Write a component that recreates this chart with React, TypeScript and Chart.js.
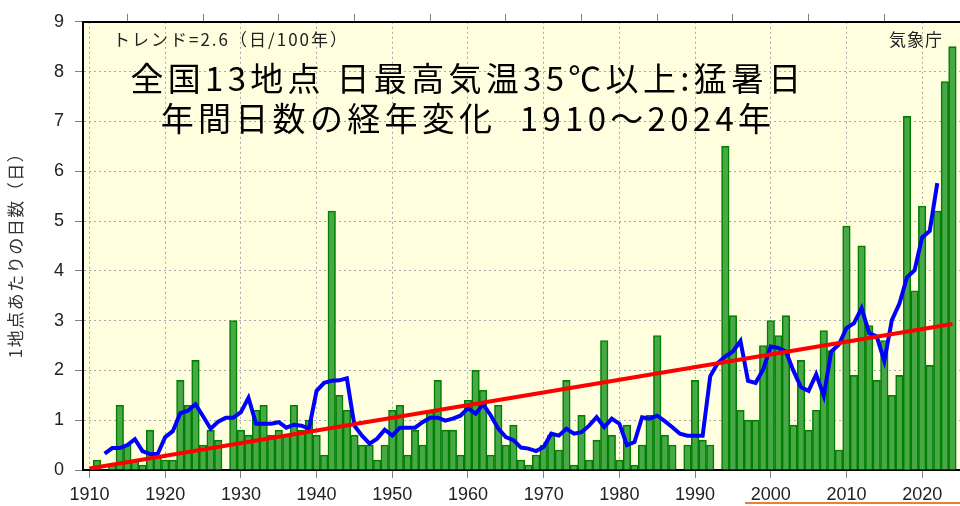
import React, { useEffect, useRef } from "react";
import { Chart, registerables } from "chart.js";

Chart.register(...registerables);

// ---------------- data ----------------
const YEARS = [
  1910, 1911, 1912, 1913, 1914, 1915, 1916, 1917, 1918, 1919,
  1920, 1921, 1922, 1923, 1924, 1925, 1926, 1927, 1928, 1929,
  1930, 1931, 1932, 1933, 1934, 1935, 1936, 1937, 1938, 1939,
  1940, 1941, 1942, 1943, 1944, 1945, 1946, 1947, 1948, 1949,
  1950, 1951, 1952, 1953, 1954, 1955, 1956, 1957, 1958, 1959,
  1960, 1961, 1962, 1963, 1964, 1965, 1966, 1967, 1968, 1969,
  1970, 1971, 1972, 1973, 1974, 1975, 1976, 1977, 1978, 1979,
  1980, 1981, 1982, 1983, 1984, 1985, 1986, 1987, 1988, 1989,
  1990, 1991, 1992, 1993, 1994, 1995, 1996, 1997, 1998, 1999,
  2000, 2001, 2002, 2003, 2004, 2005, 2006, 2007, 2008, 2009,
  2010, 2011, 2012, 2013, 2014, 2015, 2016, 2017, 2018, 2019,
  2020, 2021, 2022, 2023, 2024,
];

// annual number of days >= 35C per station
const HOT_DAYS = [
  0.0, 0.2, 0.0, 0.1, 1.3, 0.5, 0.2, 0.1, 0.8, 0.3,
  0.2, 0.2, 1.8, 1.3, 2.2, 0.5, 0.8, 0.6, 0.0, 3.0,
  0.8, 0.7, 1.2, 1.3, 0.7, 0.8, 0.7, 1.3, 0.8, 1.0,
  0.7, 0.3, 5.2, 1.5, 1.2, 0.7, 0.5, 0.5, 0.2, 0.5,
  1.2, 1.3, 0.3, 0.8, 0.5, 1.2, 1.8, 0.8, 0.8, 0.3,
  1.4, 2.0, 1.6, 0.3, 1.3, 0.5, 0.9, 0.2, 0.1, 0.3,
  0.5, 0.7, 0.4, 1.8, 0.1, 1.1, 0.2, 0.6, 2.6, 0.7,
  0.2, 0.9, 0.1, 0.5, 1.1, 2.7, 0.7, 0.5, 0.0, 0.5,
  1.8, 0.6, 0.5, 0.0, 6.5, 3.1, 1.2, 1.0, 1.0, 2.5,
  3.0, 2.7, 3.1, 0.9, 2.2, 0.8, 1.2, 2.8, 2.4, 0.4,
  4.9, 1.9, 4.5, 2.9, 1.8, 2.6, 1.5, 1.9, 7.1, 3.6,
  5.3, 2.1, 5.2, 7.8, 8.5,
];

// 5-year running mean (blue line), 1912 .. 2022
const MEAN_YEARS = YEARS.slice(2, 113);
const MEAN_5YR = [
  0.33, 0.44, 0.44, 0.50, 0.62, 0.38, 0.32, 0.32,
  0.66, 0.78, 1.14, 1.19, 1.32, 1.08, 0.83, 0.97, 1.05, 1.05,
  1.16, 1.45, 0.93, 0.93, 0.93, 0.96, 0.85, 0.91, 0.89, 0.83,
  1.59, 1.75, 1.79, 1.80, 1.84, 0.89, 0.69, 0.53, 0.63, 0.81,
  0.69, 0.85, 0.85, 0.85, 0.96, 1.05, 1.05, 0.99, 1.03, 1.09,
  1.24, 1.13, 1.32, 1.10, 0.83, 0.66, 0.60, 0.45, 0.43, 0.38,
  0.46, 0.73, 0.69, 0.83, 0.73, 0.76, 0.89, 1.06, 0.86, 1.03,
  0.93, 0.50, 0.56, 1.06, 1.03, 1.09, 0.98, 0.86, 0.73, 0.69,
  0.69, 0.69, 1.88, 2.15, 2.28, 2.38, 2.59, 1.79, 1.75, 2.02,
  2.48, 2.45, 2.38, 1.99, 1.66, 1.59, 1.92, 1.49, 2.38, 2.52,
  2.85, 2.95, 3.25, 2.75, 2.68, 2.19, 3.01, 3.34, 3.87, 4.01,
  4.67, 4.80, 5.76,
];

// long-term trend (red line)
const TREND_YEARS = [1910, 2024];
const TREND_VALUES = [0.03, 2.93];

const X_TICKS = [1910, 1920, 1930, 1940, 1950, 1960, 1970, 1980, 1990, 2000, 2010, 2020];
const Y_TICKS = [0, 1, 2, 3, 4, 5, 6, 7, 8, 9];

const TITLE_LINES = [
  "全国13地点 日最高気温35℃以上:猛暑日",
  "年間日数の経年変化  1910～2024年",
];
const TREND_LABEL = "トレンド=2.6（日/100年）";
const SOURCE_LABEL = "気象庁";
const Y_TITLE = "1地点あたりの日数（日）";

// ---------------- styles ----------------
const X_MIN = 1909.14;
const X_MAX = 2025.0;
const PLOT_BG = "#FFFFE0";
const GRID_COLOR = "#a8a8a8";
const TICK_COLOR = "#808080";
const CJK_FONT = '"Noto Sans CJK JP", "Noto Sans", sans-serif';
const AXIS_FONT = '"Liberation Sans", Arial, sans-serif';

const bgPlugin = {
  id: "plotBg",
  beforeDraw(chart: any) {
    const { ctx, chartArea } = chart;
    ctx.save();
    ctx.fillStyle = PLOT_BG;
    ctx.fillRect(chartArea.left, chartArea.top, chartArea.right - chartArea.left, chartArea.bottom - chartArea.top);
    ctx.restore();
  },
};

const textPlugin = {
  id: "texts",
  afterDatasetsDraw(chart: any) {
    const ctx = chart.ctx as CanvasRenderingContext2D;
    ctx.save();
    // big title inside the plot
    ctx.fillStyle = "#000";
    ctx.font = `33px ${CJK_FONT}`;
    ctx.textBaseline = "middle";
    ctx.textAlign = "left";
    (ctx as any).letterSpacing = "4.3px";
    TITLE_LINES.forEach((line, i) => {
      const w = ctx.measureText(line).width;
      ctx.fillText(line, 468 - w / 2, 78 + i * 40);
    });

    // trend label and source
    ctx.fillStyle = "#222";
    ctx.font = `17px ${CJK_FONT}`;
    ctx.textAlign = "left";
    (ctx as any).letterSpacing = "2px";
    ctx.fillText(TREND_LABEL, 113, 40);
    (ctx as any).letterSpacing = "1px";
    ctx.textAlign = "right";
    ctx.fillText(SOURCE_LABEL, 943, 40);

    // y axis title
    ctx.save();
    ctx.translate(16, 251);
    ctx.rotate(-Math.PI / 2);
    ctx.textAlign = "left";
    ctx.fillStyle = "#333";
    ctx.font = `17px ${CJK_FONT}`;
    (ctx as any).letterSpacing = "1.5px";
    const tw = ctx.measureText(Y_TITLE).width;
    ctx.fillText(Y_TITLE, -tw / 2, 0);
    ctx.restore();

    (ctx as any).letterSpacing = "0px";
    ctx.restore();
  },
  afterDraw(chart: any) {
    const ctx = chart.ctx as CanvasRenderingContext2D;
    ctx.save();
    ctx.strokeStyle = "#ED7D31";
    ctx.lineWidth = 2;
    ctx.beginPath();
    ctx.moveTo(745, 503);
    ctx.lineTo(960, 503);
    ctx.stroke();
    ctx.restore();
  },
};

const decadeTicks = (scale: any) => {
  scale.ticks = X_TICKS.map((v) => ({ value: v }));
};

export default function App() {
  const canvasRef = useRef<HTMLCanvasElement | null>(null);

  useEffect(() => {
    if (!canvasRef.current) return;
    const chart = new Chart(canvasRef.current, {
      type: "bar",
      data: {
        datasets: [
          {
            type: "line",
            label: "trend",
            data: TREND_YEARS.map((x, i) => ({ x, y: TREND_VALUES[i] })),
            borderColor: "#ff0000",
            borderWidth: 4,
            pointRadius: 0,
            order: 0,
          } as any,
          {
            type: "line",
            label: "5-year mean",
            data: MEAN_YEARS.map((x, i) => ({ x, y: MEAN_5YR[i] })),
            borderColor: "#0000ff",
            borderWidth: 4,
            pointRadius: 0,
            tension: 0,
            order: 1,
          } as any,
          {
            type: "bar",
            label: "days",
            data: YEARS.map((x, i) => ({ x, y: HOT_DAYS[i] })),
            backgroundColor: "#48a848",
            borderColor: "#008000",
            borderWidth: 1.6,
            borderSkipped: "bottom",
            barPercentage: 1.0,
            categoryPercentage: 1.0,
            order: 2,
          } as any,
        ],
      },
      options: {
        animation: false,
        responsive: false,
        layout: { padding: 0 },
        plugins: { legend: { display: false }, tooltip: { enabled: false } },
        scales: {
          x: {
            type: "linear",
            position: "bottom",
            min: X_MIN,
            max: X_MAX,
            offset: false,
            afterBuildTicks: decadeTicks,
            afterFit: (s: any) => {
              s.height = 36;
            },
            grid: { color: GRID_COLOR, tickColor: TICK_COLOR, tickLength: 8, offset: false, lineWidth: 1 },
            border: { color: "#000", width: 2, dash: [2, 3] },
            ticks: {
              color: "#222",
              font: { family: AXIS_FONT, size: 18 },
              padding: 6,
              maxRotation: 0,
              callback: (v: any) => String(v),
            },
          },
          x2: {
            type: "linear",
            position: "top",
            min: X_MIN,
            max: X_MAX,
            offset: false,
            afterBuildTicks: decadeTicks,
            afterFit: (s: any) => {
              s.height = 16;
            },
            grid: { drawOnChartArea: false, tickColor: TICK_COLOR, tickLength: 8 },
            border: { color: "#000", width: 2 },
            ticks: { display: false },
          },
          y: {
            type: "linear",
            position: "left",
            min: 0,
            max: 9,
            afterBuildTicks: (s: any) => {
              s.ticks = Y_TICKS.map((v) => ({ value: v }));
            },
            afterFit: (s: any) => {
              s.width = 83;
            },
            grid: { color: GRID_COLOR, tickColor: TICK_COLOR, tickLength: 8, lineWidth: 1 },
            border: { color: "#000", width: 2, dash: [2, 3] },
            ticks: {
              color: "#222",
              font: { family: AXIS_FONT, size: 18 },
              padding: 11,
            },
          },
        },
      },
      plugins: [bgPlugin, textPlugin],
    });
    return () => chart.destroy();
  }, []);

  return (
    <div style={{ position: "absolute", left: 0, top: 0, width: 960, height: 506, background: "#fff" }}>
      <canvas ref={canvasRef} width={960} height={506} style={{ width: 960, height: 506, display: "block" }} />
    </div>
  );
}
